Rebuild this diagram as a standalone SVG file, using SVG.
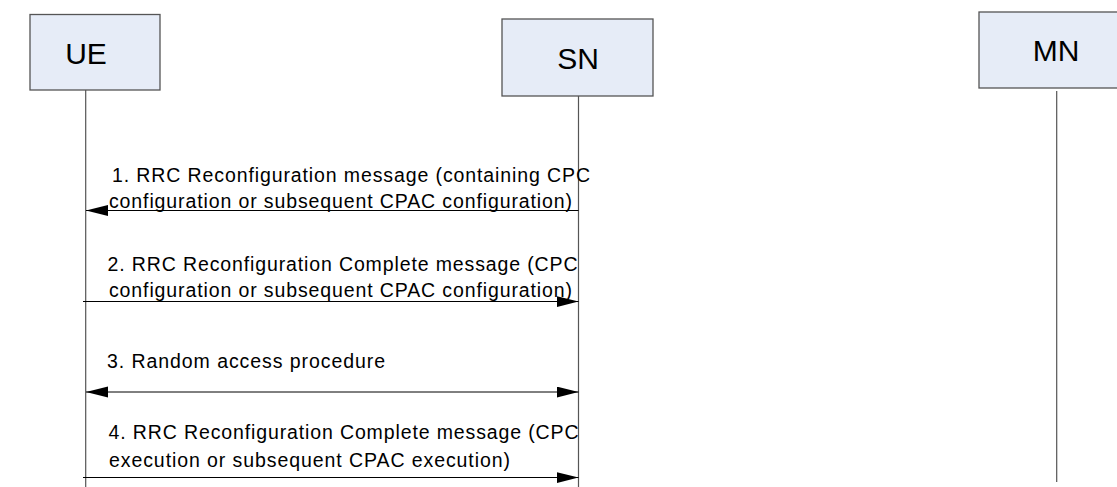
<svg xmlns="http://www.w3.org/2000/svg" width="1117" height="487" viewBox="0 0 1117 487">
<style>
.box{fill:#E6ECF7;stroke:#555;stroke-width:1.3}
.title{font-family:"Liberation Sans",Arial,sans-serif;font-size:30px;fill:#000;text-anchor:middle}
.life{stroke:#555;stroke-width:1.2}
.msg{stroke:#000;stroke-width:1;fill:none}
.lbl{font-family:"Liberation Sans",Arial,sans-serif;font-size:19.5px;fill:#000}
</style>
<defs>
<marker id="ah" markerUnits="userSpaceOnUse" markerWidth="22" markerHeight="12" refX="22" refY="5.5" orient="auto-start-reverse">
<path d="M0,0 L22,5.5 L0,11 z" fill="#000"/>
</marker>
</defs>
<rect width="1117" height="487" fill="#fff"/>
<g id="UE">
<rect class="box" x="30" y="14.5" width="130" height="75.5"/>
<text class="title" x="86" y="63.5">UE</text>
<line class="life" x1="85.7" y1="90" x2="85.7" y2="487"/>
</g>
<g id="SN">
<rect class="box" x="502" y="19" width="151" height="77"/>
<text class="title" x="578" y="68.5">SN</text>
<line class="life" x1="578.5" y1="96" x2="578.5" y2="487"/>
</g>
<g id="MN">
<rect class="box" x="979" y="12" width="160" height="76"/>
<text class="title" x="1056" y="61">MN</text>
<line class="life" x1="1056.7" y1="91" x2="1056.7" y2="482"/>
</g>
<g id="connectors">
<line class="msg" x1="578.5" y1="210.5" x2="86" y2="210.5" marker-end="url(#ah)"/>
<line class="msg" x1="83" y1="301.5" x2="578.5" y2="301.5" marker-end="url(#ah)"/>
<line class="msg" x1="86" y1="392" x2="578.5" y2="392" marker-start="url(#ah)" marker-end="url(#ah)"/>
<line class="msg" x1="83" y1="477.5" x2="578.5" y2="477.5" marker-end="url(#ah)"/>
</g>
<g id="labels">
<text class="lbl" x="112" y="182" textLength="478" lengthAdjust="spacing">1. RRC Reconfiguration message (containing CPC</text>
<text class="lbl" x="109" y="208" textLength="463" lengthAdjust="spacing">configuration or subsequent CPAC configuration)</text>
<text class="lbl" x="107.5" y="271" textLength="470" lengthAdjust="spacing">2. RRC Reconfiguration Complete message (CPC</text>
<text class="lbl" x="109" y="297" textLength="463" lengthAdjust="spacing">configuration or subsequent CPAC configuration)</text>
<text class="lbl" x="107" y="367.5" textLength="278" lengthAdjust="spacing">3. Random access procedure</text>
<text class="lbl" x="108.5" y="438.5" textLength="470" lengthAdjust="spacing">4. RRC Reconfiguration Complete message (CPC</text>
<text class="lbl" x="109" y="466.5" textLength="401" lengthAdjust="spacing">execution or subsequent CPAC execution)</text>
</g>
</svg>
